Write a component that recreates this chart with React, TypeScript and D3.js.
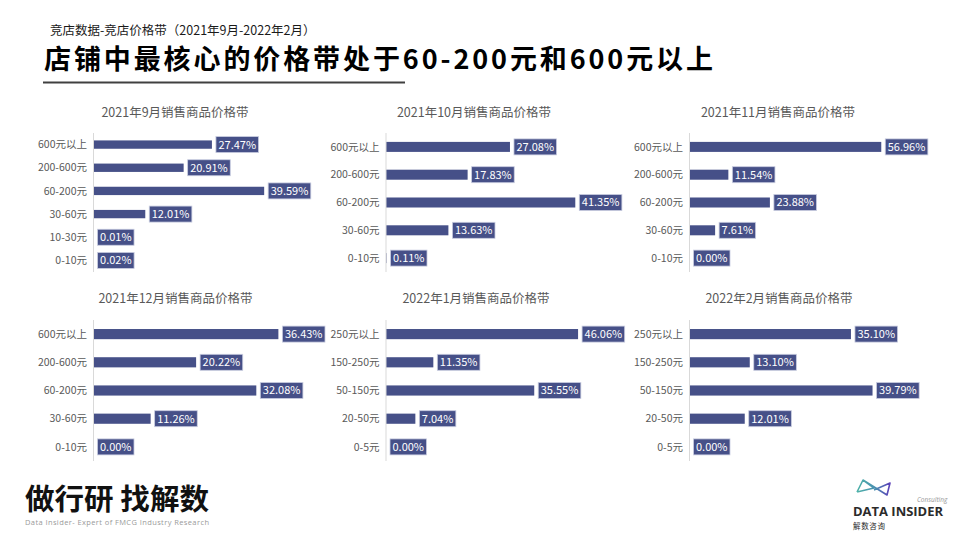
import React from 'react';
import * as d3 from 'd3';

// ---------- data ----------
const panelTitles = [
  '2021年9月销售商品价格带',
  '2021年10月销售商品价格带',
  '2021年11月销售商品价格带',
  '2021年12月销售商品价格带',
  '2022年1月销售商品价格带',
  '2022年2月销售商品价格带',
];
const catsSep = ['600元以上', '200-600元', '60-200元', '30-60元', '10-30元', '0-10元'];
const cats2021 = ['600元以上', '200-600元', '60-200元', '30-60元', '0-10元'];
const cats2022 = ['250元以上', '150-250元', '50-150元', '20-50元', '0-5元'];
const valsSep = [27.47, 20.91, 39.59, 12.01, 0.01, 0.02];
const valsOct = [27.08, 17.83, 41.35, 13.63, 0.11];
const valsNov = [56.96, 11.54, 23.88, 7.61, 0.0];
const valsDec = [36.43, 20.22, 32.08, 11.26, 0.0];
const valsJan = [46.06, 11.35, 35.55, 7.04, 0.0];
const valsFeb = [35.1, 13.1, 39.79, 12.01, 0.0];
const axisMax = [45, 45, 60, 40, 50, 45];

const panelCats = [catsSep, cats2021, cats2021, cats2021, cats2022, cats2022];
const panelVals = [valsSep, valsOct, valsNov, valsDec, valsJan, valsFeb];

// ---------- layout ----------
const layout = [
  { axisX: 93.5, top: 133, bottom: 272, width: 194, titleX: 175, titleY: 117 },
  { axisX: 386, top: 133, bottom: 272, width: 206, titleX: 474, titleY: 117 },
  { axisX: 689.5, top: 133, bottom: 272, width: 202, titleX: 778, titleY: 117 },
  { axisX: 93.5, top: 320, bottom: 461, width: 203, titleX: 175.5, titleY: 303 },
  { axisX: 386, top: 320, bottom: 461, width: 208.5, titleX: 476, titleY: 303 },
  { axisX: 689.5, top: 320, bottom: 461, width: 207, titleX: 779, titleY: 303 },
];

const FONT = "'Noto Sans CJK SC', 'Noto Sans', sans-serif";
const BAR = '#465088';
const TXT = '#595959';
const fmt = d3.format('.2f');

let ctx: CanvasRenderingContext2D | null = null;
function measure(text: string, size: number) {
  if (!ctx) ctx = document.createElement('canvas').getContext('2d');
  if (!ctx) return text.length * size * 0.55;
  ctx.font = `${size}px ${FONT}`;
  return ctx.measureText(text).width;
}

function Panel({ idx }: { idx: number }) {
  const L = layout[idx];
  const cats = panelCats[idx];
  const vals = panelVals[idx];
  const x = d3.scaleLinear().domain([0, axisMax[idx]]).range([L.axisX, L.axisX + L.width]);
  const y = d3
    .scaleBand<string>()
    .domain(cats)
    .range([L.top, L.bottom])
    .paddingInner(0.64)
    .paddingOuter(0.32);
  const bh = y.bandwidth();
  const labelSize = 11;
  return (
    <g>
      <text
        x={L.titleX}
        y={L.titleY}
        textAnchor="middle"
        fontSize={12.5}
        fill={TXT}
        fontFamily={FONT}
      >
        {panelTitles[idx]}
      </text>
      {cats.map((c, i) => {
        const cy = (y(c) as number) + bh / 2;
        const x1 = x(vals[i]);
        const label = `${fmt(vals[i])}%`;
        const tw = measure(label, labelSize);
        const bx = x1 + 4;
        const bw = tw + 5;
        return (
          <g key={c}>
            <text
              x={L.axisX - 6.5}
              y={cy}
              dy="0.35em"
              textAnchor="end"
              fontSize={10.5}
              fill={TXT}
              fontFamily={FONT}
            >
              {c}
            </text>
            <rect x={x(0)} y={cy - bh / 2} width={Math.max(0, x1 - x(0))} height={bh} fill={BAR} />
            <rect
              x={bx}
              y={cy - 8}
              width={bw}
              height={16}
              fill={BAR}
              stroke="#c9cde0"
              strokeWidth={0.8}
            />
            <text
              x={bx + bw / 2}
              y={cy}
              dy="0.36em"
              textAnchor="middle"
              fontSize={labelSize}
              fill="#ffffff"
              fontFamily={FONT}
            >
              {label}
            </text>
          </g>
        );
      })}
      <line x1={L.axisX} x2={L.axisX} y1={L.top} y2={L.bottom} stroke="#d9d9d9" strokeWidth={1} />
    </g>
  );
}

export default function App() {
  return (
    <svg
      width={960}
      height={540}
      viewBox="0 0 960 540"
      style={{ position: 'absolute', left: 0, top: 0, background: '#fff' }}
      fontFamily={FONT}
    >
      <defs>
        <linearGradient id="logoGrad" x1="0" x2="1" y1="0" y2="0">
          <stop offset="0" stopColor="#4fb3a9" />
          <stop offset="0.55" stopColor="#4a8fb0" />
          <stop offset="1" stopColor="#5b3fb8" />
        </linearGradient>
      </defs>
      <rect x={0} y={0} width={960} height={540} fill="#fff" />
      {/* header */}
      <text x={50} y={35} fontSize={12.5} fill="#1a1a1a">
        竞店数据-竞店价格带（2021年9月-2022年2月）
      </text>
      <text
        x={44}
        y={69}
        fontSize={27}
        fontWeight={700}
        fill="#000"
        textLength={669}
        lengthAdjust="spacing"
      >
        店铺中最核心的价格带处于60-200元和600元以上
      </text>
      <line x1={43} x2={405} y1={82.5} y2={82.5} stroke="#404040" strokeWidth={2} />

      {layout.map((_, i) => (
        <Panel key={i} idx={i} />
      ))}

      {/* footer left */}
      <text
        x={25}
        y={510}
        fontSize={29}
        fontWeight={700}
        fill="#111"
        textLength={184}
        lengthAdjust="spacingAndGlyphs"
      >
        做行研 找解数
      </text>
      <text
        x={25}
        y={525}
        fontSize={7.5}
        fill="#9a9a9a"
        textLength={184}
        lengthAdjust="spacing"
        fontFamily="'Open Sans', sans-serif"
      >
        Data Insider- Expert of FMCG Industry Research
      </text>

      {/* footer right logo */}
      <path
        d="M857,492 L863,480 L874,488 L857,492 M863,480 L887,495 L890,483 L874,490"
        fill="none"
        stroke="url(#logoGrad)"
        strokeWidth={1.6}
        strokeLinejoin="round"
      />
      <text
        x={917}
        y={502}
        fontSize={6.5}
        fontStyle="italic"
        fill="#999"
        fontFamily="'Open Sans', sans-serif"
      >
        Consulting
      </text>
      <text
        x={853}
        y={516}
        fontSize={12.5}
        fontWeight={700}
        fill="#2b2b2b"
        textLength={90}
        lengthAdjust="spacingAndGlyphs"
        fontFamily="'Open Sans', sans-serif"
      >
        DATA INSIDER
      </text>
      <text x={853} y={528.5} fontSize={7.5} fill="#2b2b2b" textLength={32} lengthAdjust="spacing">
        解数咨询
      </text>
    </svg>
  );
}
